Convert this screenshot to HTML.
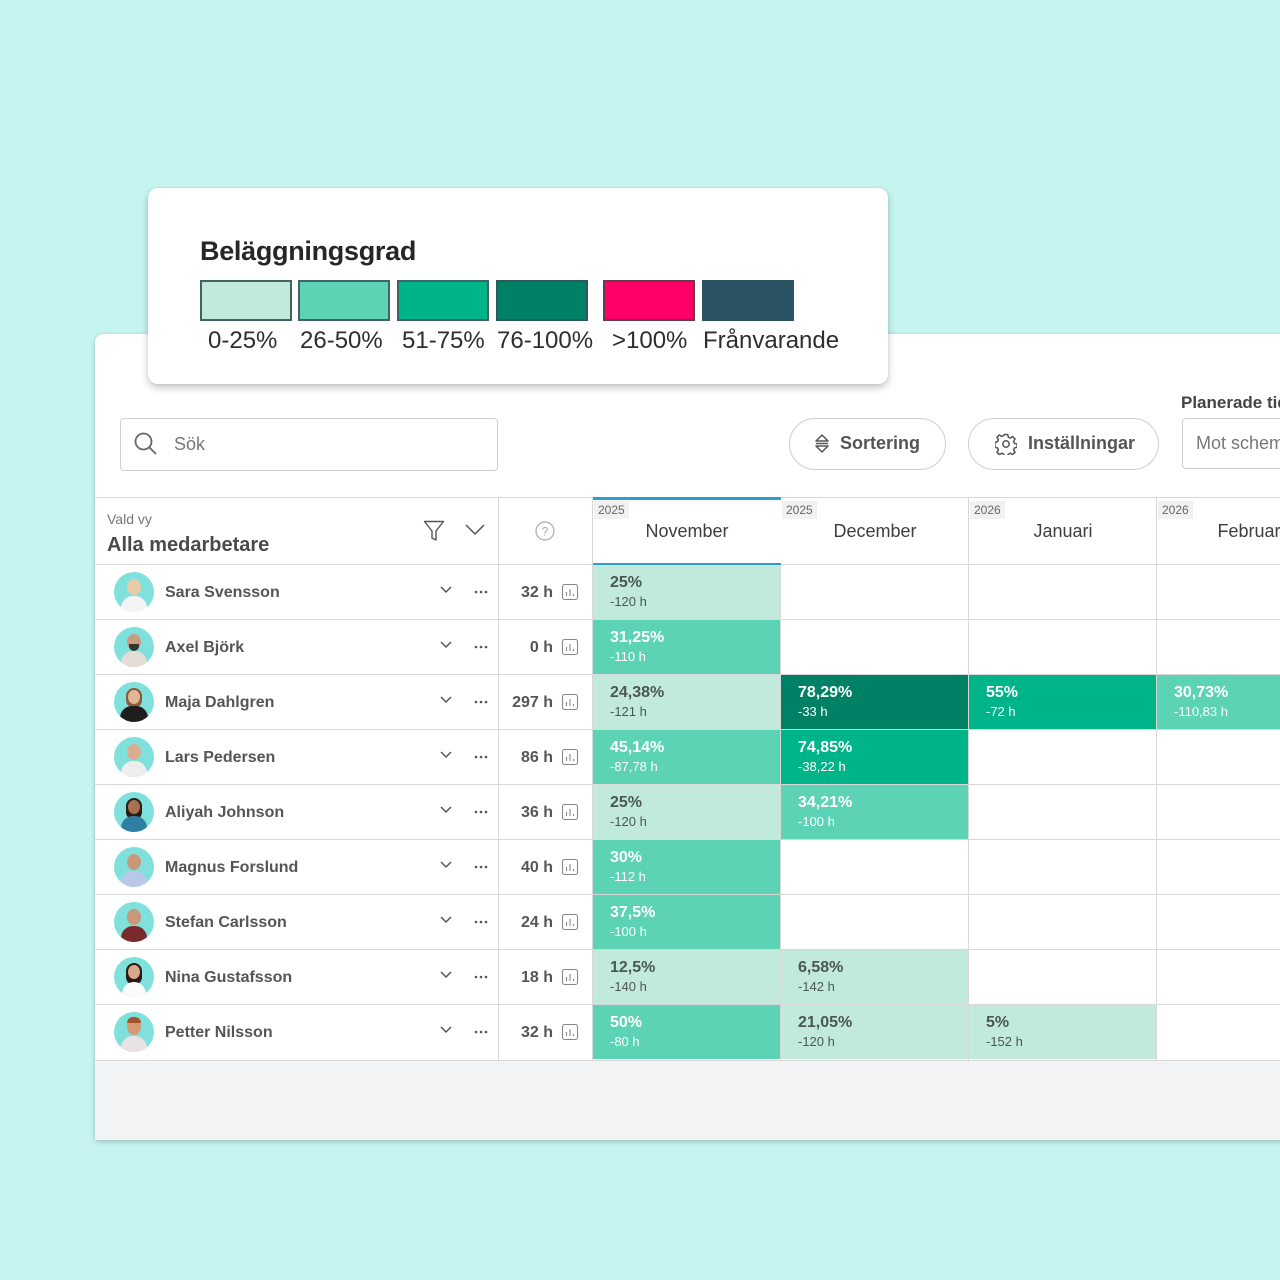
<!DOCTYPE html>
<html><head><meta charset="utf-8">
<style>
*{margin:0;padding:0;box-sizing:border-box}
html,body{width:1280px;height:1280px;overflow:hidden;background:#c6f4f1;font-family:"Liberation Sans",Arial,sans-serif}
.abs{position:absolute}
#panel{position:absolute;left:95px;top:334px;width:1240px;height:806px;background:#fff;border-radius:8px 0 0 0;box-shadow:0 2px 6px rgba(0,0,0,0.18),0 0 2px rgba(0,0,0,0.08);overflow:hidden}
#legend{position:absolute;left:148px;top:188px;width:740px;height:196px;background:#fff;border-radius:10px;box-shadow:0 4px 8px rgba(0,0,0,0.22),0 0 2px rgba(0,0,0,0.1);z-index:5}
.sw{position:absolute;top:92px;width:92px;height:41px}
.lb{position:absolute;top:139px;font-size:24px;color:#2e2e2e;white-space:nowrap}
.hl{position:absolute;height:1px;background:#d8d8d8}
.vl{position:absolute;width:1px;background:#d8d8d8}
.name{position:absolute;left:70px;font-size:16px;font-weight:bold;color:#555;white-space:nowrap;line-height:20px}
.av{position:absolute;left:19px;width:40px;height:40px;border-radius:50%;background:#7fe0dc;overflow:hidden}
.cell{position:absolute;width:187px;height:54px}
.pct{position:absolute;left:17px;top:8px;font-size:16px;font-weight:bold;line-height:20px}
.sub{position:absolute;left:17px;top:28px;font-size:13px;line-height:18px}
.c1{background:#c2eadc;color:#4b5753}
.c2{background:#5dd3b5;color:#fff}
.c3{background:#00b48a;color:#fff}
.c4{background:#008166;color:#fff}
.hrs{position:absolute;right:0;width:70px;text-align:right;font-size:16px;font-weight:bold;color:#555;line-height:20px}
.yr{position:absolute;top:4px;left:1px;background:#f1f1f1;font-size:12px;color:#666;padding:2px 4px;line-height:14px}
.mo{position:absolute;top:22px;width:188px;text-align:center;font-size:18px;color:#3e3e3e;line-height:24px}
</style></head><body>

<div id="legend">
  <div class="abs" style="left:52px;top:48px;font-size:27px;font-weight:bold;color:#262626;letter-spacing:-0.3px">Beläggningsgrad</div>
  <div class="sw" style="left:52px;background:#c2eadc;border:2px solid #3f6367"></div>
  <div class="sw" style="left:150px;background:#5dd3b5;border:2px solid #3f6367"></div>
  <div class="sw" style="left:249px;background:#00b48a;border:2px solid #3f6367"></div>
  <div class="sw" style="left:348px;background:#008166;border:2px solid #2f5a5a"></div>
  <div class="sw" style="left:455px;background:#ff0066;border:2px solid #6a3a4a"></div>
  <div class="sw" style="left:554px;background:#2b5263;border:2px solid #2b5263"></div>
  <div class="lb" style="left:60px">0-25%</div>
  <div class="lb" style="left:152px">26-50%</div>
  <div class="lb" style="left:254px">51-75%</div>
  <div class="lb" style="left:349px">76-100%</div>
  <div class="lb" style="left:464px">&gt;100%</div>
  <div class="lb" style="left:555px">Frånvarande</div>
</div>

<div id="panel">
  <div class="abs" style="left:25px;top:84px;width:378px;height:53px;border:1px solid #cfcfcf;border-radius:4px"></div>
  <svg class="abs" style="left:38px;top:97px" width="26" height="26" viewBox="0 0 26 26"><circle cx="10.5" cy="10.5" r="8" fill="none" stroke="#666" stroke-width="1.8"/><line x1="16.5" y1="16.5" x2="23" y2="23" stroke="#666" stroke-width="1.8"/></svg>
  <div class="abs" style="left:79px;top:99px;font-size:18px;color:#777;line-height:22px">Sök</div>

  <div class="abs" style="left:694px;top:84px;width:157px;height:52px;border:1px solid #cfcfcf;border-radius:26px"></div>
  <svg class="abs" style="left:719px;top:99px" width="16" height="22" viewBox="0 0 16 22"><path d="M2 8 L8 2 L14 8 Z M2 13 L8 19 L14 13 Z" fill="none" stroke="#555" stroke-width="1.5" stroke-linejoin="round"/><line x1="2" y1="10.5" x2="14" y2="10.5" stroke="#555" stroke-width="1.5"/></svg>
  <div class="abs" style="left:745px;top:98px;font-size:18px;font-weight:bold;color:#555;line-height:22px">Sortering</div>

  <div class="abs" style="left:873px;top:84px;width:191px;height:52px;border:1px solid #cfcfcf;border-radius:26px"></div>
  <svg class="abs" style="left:900px;top:99px" width="22" height="22" viewBox="0 0 22 22"><g fill="none" stroke="#555" stroke-width="1.5"><circle cx="11" cy="11" r="3.2"/><path d="M9.3 1.5h3.4l.6 2.6 2 .9 2.3-1.4 2.4 2.4-1.4 2.3.9 2 2.6.6v3.4l-2.6.6-.9 2 1.4 2.3-2.4 2.4-2.3-1.4-2 .9-.6 2.6H9.3l-.6-2.6-2-.9-2.3 1.4-2.4-2.4 1.4-2.3-.9-2-2.6-.6V9.3l2.6-.6.9-2-1.4-2.3 2.4-2.4 2.3 1.4 2-.9z"/></g></svg>
  <div class="abs" style="left:933px;top:98px;font-size:18px;font-weight:bold;color:#555;line-height:22px">Inställningar</div>

  <div class="abs" style="left:1086px;top:58px;font-size:17px;font-weight:bold;color:#444;line-height:22px;white-space:nowrap">Planerade tid</div>
  <div class="abs" style="left:1087px;top:84px;width:200px;height:51px;border:1px solid #cfcfcf;border-radius:4px"></div>
  <div class="abs" style="left:1101px;top:98px;font-size:18px;color:#777;line-height:22px;white-space:nowrap">Mot schema</div>

  <div class="hl" style="left:0;top:163px;width:1240px"></div>
  <div class="hl" style="left:0;top:230px;width:1240px"></div>
  <div class="hl" style="left:0;top:285px;width:1240px"></div>
  <div class="hl" style="left:0;top:340px;width:1240px"></div>
  <div class="hl" style="left:0;top:395px;width:1240px"></div>
  <div class="hl" style="left:0;top:450px;width:1240px"></div>
  <div class="hl" style="left:0;top:505px;width:1240px"></div>
  <div class="hl" style="left:0;top:560px;width:1240px"></div>
  <div class="hl" style="left:0;top:615px;width:1240px"></div>
  <div class="hl" style="left:0;top:670px;width:1240px"></div>
  <div class="abs" style="left:0;top:726px;width:1240px;height:80px;background:#f1f3f4;border-top:1px solid #d8d8d8"></div>

  <div class="vl" style="left:403px;top:163px;height:563px"></div>
  <div class="vl" style="left:497px;top:163px;height:563px"></div>
  <div class="vl" style="left:685px;top:163px;height:563px"></div>
  <div class="vl" style="left:873px;top:163px;height:563px"></div>
  <div class="vl" style="left:1061px;top:163px;height:563px"></div>

  <div class="abs" style="left:12px;top:176px;font-size:14px;color:#777;line-height:18px">Vald vy</div>
  <div class="abs" style="left:12px;top:199px;font-size:20px;font-weight:bold;color:#4a4a4a;line-height:24px">Alla medarbetare</div>
  <svg class="abs" style="left:328px;top:186px" width="22" height="22" viewBox="0 0 22 22"><path d="M1.5 1.5 H20.5 L13 11 V20 L9 18 V11 Z" fill="none" stroke="#555" stroke-width="1.4" stroke-linejoin="round"/></svg>
  <svg class="abs" style="left:370px;top:190px" width="20" height="12" viewBox="0 0 20 12"><path d="M1 1 L10 10 L19 1" fill="none" stroke="#555" stroke-width="1.5"/></svg>
  <svg class="abs" style="left:440px;top:187px" width="20" height="20" viewBox="0 0 20 20"><circle cx="10" cy="10" r="9" fill="none" stroke="#aaa" stroke-width="1.2"/><text x="10" y="14.5" text-anchor="middle" font-size="12" fill="#aaa" font-family="Liberation Sans">?</text></svg>

  <div class="abs" style="left:498px;top:163px;width:188px;height:68px;border-top:3px solid #2a9fd0;border-bottom:2px solid #2a9fd0;background:#fff"></div>
  <div class="abs" style="left:498px;top:163px;width:188px;height:67px"><div class="yr">2025</div><div class="mo" style="left:0">November</div></div>
  <div class="abs" style="left:686px;top:163px;width:188px;height:67px"><div class="yr">2025</div><div class="mo" style="left:0">December</div></div>
  <div class="abs" style="left:874px;top:163px;width:188px;height:67px"><div class="yr">2026</div><div class="mo" style="left:0">Januari</div></div>
  <div class="abs" style="left:1062px;top:163px;width:188px;height:67px"><div class="yr">2026</div><div class="mo" style="left:0">Februari</div></div>

  <div class="abs" style="left:0;top:231px;width:1240px;height:54px">
    <div class="av" style="top:7px"><div class="abs" style="left:13px;top:7px;width:14px;height:16px;border-radius:50%;background:#e8c9a8"></div><div class="abs" style="left:7px;top:24px;width:26px;height:20px;border-radius:12px 12px 0 0;background:#f4f4f4"></div></div>
    <div class="name" style="top:18px">Sara Svensson</div>
  </div>
  <div class="abs" style="left:0;top:286px;width:1240px;height:54px">
    <div class="av" style="top:7px"><div class="abs" style="left:13px;top:7px;width:14px;height:16px;border-radius:50%;background:#c99d80"></div><div class="abs" style="left:15px;top:17px;width:10px;height:7px;border-radius:0 0 5px 5px;background:#333"></div><div class="abs" style="left:7px;top:24px;width:26px;height:20px;border-radius:12px 12px 0 0;background:#e6dcd6"></div></div>
    <div class="name" style="top:18px">Axel Björk</div>
  </div>
  <div class="abs" style="left:0;top:341px;width:1240px;height:54px">
    <div class="av" style="top:7px"><div class="abs" style="left:12px;top:6px;width:16px;height:20px;border-radius:8px;background:#8a5a3a"></div><div class="abs" style="left:14px;top:8px;width:12px;height:14px;border-radius:50%;background:#e0b796"></div><div class="abs" style="left:6px;top:24px;width:28px;height:20px;border-radius:12px 12px 0 0;background:#1e1e1e"></div></div>
    <div class="name" style="top:18px">Maja Dahlgren</div>
  </div>
  <div class="abs" style="left:0;top:396px;width:1240px;height:54px">
    <div class="av" style="top:7px"><div class="abs" style="left:13px;top:7px;width:14px;height:16px;border-radius:50%;background:#d9ae8f"></div><div class="abs" style="left:7px;top:24px;width:26px;height:20px;border-radius:12px 12px 0 0;background:#eeeeee"></div></div>
    <div class="name" style="top:18px">Lars Pedersen</div>
  </div>
  <div class="abs" style="left:0;top:451px;width:1240px;height:54px">
    <div class="av" style="top:7px"><div class="abs" style="left:12px;top:6px;width:16px;height:22px;border-radius:8px;background:#2a1c16"></div><div class="abs" style="left:14px;top:8px;width:12px;height:14px;border-radius:50%;background:#a9714f"></div><div class="abs" style="left:7px;top:24px;width:26px;height:20px;border-radius:12px 12px 0 0;background:#2f7fa3"></div></div>
    <div class="name" style="top:18px">Aliyah Johnson</div>
  </div>
  <div class="abs" style="left:0;top:506px;width:1240px;height:54px">
    <div class="av" style="top:7px"><div class="abs" style="left:13px;top:7px;width:14px;height:16px;border-radius:50%;background:#c9987a"></div><div class="abs" style="left:7px;top:24px;width:26px;height:20px;border-radius:12px 12px 0 0;background:#b9c8e6"></div></div>
    <div class="name" style="top:18px">Magnus Forslund</div>
  </div>
  <div class="abs" style="left:0;top:561px;width:1240px;height:54px">
    <div class="av" style="top:7px"><div class="abs" style="left:13px;top:7px;width:14px;height:16px;border-radius:50%;background:#c9987a"></div><div class="abs" style="left:7px;top:24px;width:26px;height:20px;border-radius:12px 12px 0 0;background:#7a2a2a"></div></div>
    <div class="name" style="top:18px">Stefan Carlsson</div>
  </div>
  <div class="abs" style="left:0;top:616px;width:1240px;height:54px">
    <div class="av" style="top:7px"><div class="abs" style="left:12px;top:6px;width:16px;height:22px;border-radius:8px;background:#2a1a14"></div><div class="abs" style="left:14px;top:8px;width:12px;height:14px;border-radius:50%;background:#d7a98a"></div><div class="abs" style="left:8px;top:25px;width:24px;height:20px;border-radius:12px 12px 0 0;background:#fafafa"></div></div>
    <div class="name" style="top:18px">Nina Gustafsson</div>
  </div>
  <div class="abs" style="left:0;top:671px;width:1240px;height:54px">
    <div class="av" style="top:7px"><div class="abs" style="left:13px;top:6px;width:14px;height:17px;border-radius:50%;background:#d49a76"></div><div class="abs" style="left:13px;top:5px;width:14px;height:6px;border-radius:6px 6px 0 0;background:#a4532e"></div><div class="abs" style="left:7px;top:24px;width:26px;height:20px;border-radius:12px 12px 0 0;background:#e8e2e2"></div></div>
    <div class="name" style="top:18px">Petter Nilsson</div>
  </div>

  <svg class="abs" style="left:0;top:231px" width="497" height="495" viewBox="0 0 497 495">
    <g fill="none" stroke="#555" stroke-width="1.5">
      <path d="M346 22 l5 5 l5 -5"/><path d="M346 77 l5 5 l5 -5"/><path d="M346 132 l5 5 l5 -5"/>
      <path d="M346 187 l5 5 l5 -5"/><path d="M346 242 l5 5 l5 -5"/><path d="M346 297 l5 5 l5 -5"/>
      <path d="M346 352 l5 5 l5 -5"/><path d="M346 407 l5 5 l5 -5"/><path d="M346 462 l5 5 l5 -5"/>
    </g>
    <g fill="#555">
      <circle cx="381" cy="27" r="1.3"/><circle cx="386" cy="27" r="1.3"/><circle cx="391" cy="27" r="1.3"/>
      <circle cx="381" cy="82" r="1.3"/><circle cx="386" cy="82" r="1.3"/><circle cx="391" cy="82" r="1.3"/>
      <circle cx="381" cy="137" r="1.3"/><circle cx="386" cy="137" r="1.3"/><circle cx="391" cy="137" r="1.3"/>
      <circle cx="381" cy="192" r="1.3"/><circle cx="386" cy="192" r="1.3"/><circle cx="391" cy="192" r="1.3"/>
      <circle cx="381" cy="247" r="1.3"/><circle cx="386" cy="247" r="1.3"/><circle cx="391" cy="247" r="1.3"/>
      <circle cx="381" cy="302" r="1.3"/><circle cx="386" cy="302" r="1.3"/><circle cx="391" cy="302" r="1.3"/>
      <circle cx="381" cy="357" r="1.3"/><circle cx="386" cy="357" r="1.3"/><circle cx="391" cy="357" r="1.3"/>
      <circle cx="381" cy="412" r="1.3"/><circle cx="386" cy="412" r="1.3"/><circle cx="391" cy="412" r="1.3"/>
      <circle cx="381" cy="467" r="1.3"/><circle cx="386" cy="467" r="1.3"/><circle cx="391" cy="467" r="1.3"/>
    </g>
    <g fill="none" stroke="#888" stroke-width="1.1">
      <rect x="467.5" y="19.5" width="15" height="15" rx="2"/><path d="M471.5 31v-4 M475 31v-7 M478.5 31v-2"/>
      <rect x="467.5" y="74.5" width="15" height="15" rx="2"/><path d="M471.5 86v-4 M475 86v-7 M478.5 86v-2"/>
      <rect x="467.5" y="129.5" width="15" height="15" rx="2"/><path d="M471.5 141v-4 M475 141v-7 M478.5 141v-2"/>
      <rect x="467.5" y="184.5" width="15" height="15" rx="2"/><path d="M471.5 196v-4 M475 196v-7 M478.5 196v-2"/>
      <rect x="467.5" y="239.5" width="15" height="15" rx="2"/><path d="M471.5 251v-4 M475 251v-7 M478.5 251v-2"/>
      <rect x="467.5" y="294.5" width="15" height="15" rx="2"/><path d="M471.5 306v-4 M475 306v-7 M478.5 306v-2"/>
      <rect x="467.5" y="349.5" width="15" height="15" rx="2"/><path d="M471.5 361v-4 M475 361v-7 M478.5 361v-2"/>
      <rect x="467.5" y="404.5" width="15" height="15" rx="2"/><path d="M471.5 416v-4 M475 416v-7 M478.5 416v-2"/>
      <rect x="467.5" y="459.5" width="15" height="15" rx="2"/><path d="M471.5 471v-4 M475 471v-7 M478.5 471v-2"/>
    </g>
  </svg>
  <div class="abs" style="left:388px;top:231px;width:70px;height:495px">
    <div class="hrs" style="top:18px">32 h</div>
    <div class="hrs" style="top:73px">0 h</div>
    <div class="hrs" style="top:128px">297 h</div>
    <div class="hrs" style="top:183px">86 h</div>
    <div class="hrs" style="top:238px">36 h</div>
    <div class="hrs" style="top:293px">40 h</div>
    <div class="hrs" style="top:348px">24 h</div>
    <div class="hrs" style="top:403px">18 h</div>
    <div class="hrs" style="top:458px">32 h</div>
  </div>

  <div class="cell c1" style="left:498px;top:231px"><div class="pct">25%</div><div class="sub">-120 h</div></div>
  <div class="cell c2" style="left:498px;top:286px"><div class="pct">31,25%</div><div class="sub">-110 h</div></div>
  <div class="cell c1" style="left:498px;top:341px"><div class="pct">24,38%</div><div class="sub">-121 h</div></div>
  <div class="cell c4" style="left:686px;top:341px"><div class="pct">78,29%</div><div class="sub">-33 h</div></div>
  <div class="cell c3" style="left:874px;top:341px"><div class="pct">55%</div><div class="sub">-72 h</div></div>
  <div class="cell c2" style="left:1062px;top:341px;width:190px"><div class="pct">30,73%</div><div class="sub">-110,83 h</div></div>
  <div class="cell c2" style="left:498px;top:396px"><div class="pct">45,14%</div><div class="sub">-87,78 h</div></div>
  <div class="cell c3" style="left:686px;top:396px"><div class="pct">74,85%</div><div class="sub">-38,22 h</div></div>
  <div class="cell c1" style="left:498px;top:451px"><div class="pct">25%</div><div class="sub">-120 h</div></div>
  <div class="cell c2" style="left:686px;top:451px"><div class="pct">34,21%</div><div class="sub">-100 h</div></div>
  <div class="cell c2" style="left:498px;top:506px"><div class="pct">30%</div><div class="sub">-112 h</div></div>
  <div class="cell c2" style="left:498px;top:561px"><div class="pct">37,5%</div><div class="sub">-100 h</div></div>
  <div class="cell c1" style="left:498px;top:616px"><div class="pct">12,5%</div><div class="sub">-140 h</div></div>
  <div class="cell c1" style="left:686px;top:616px"><div class="pct">6,58%</div><div class="sub">-142 h</div></div>
  <div class="cell c2" style="left:498px;top:671px"><div class="pct">50%</div><div class="sub">-80 h</div></div>
  <div class="cell c1" style="left:686px;top:671px"><div class="pct">21,05%</div><div class="sub">-120 h</div></div>
  <div class="cell c1" style="left:874px;top:671px"><div class="pct">5%</div><div class="sub">-152 h</div></div>
</div>

</body></html>
